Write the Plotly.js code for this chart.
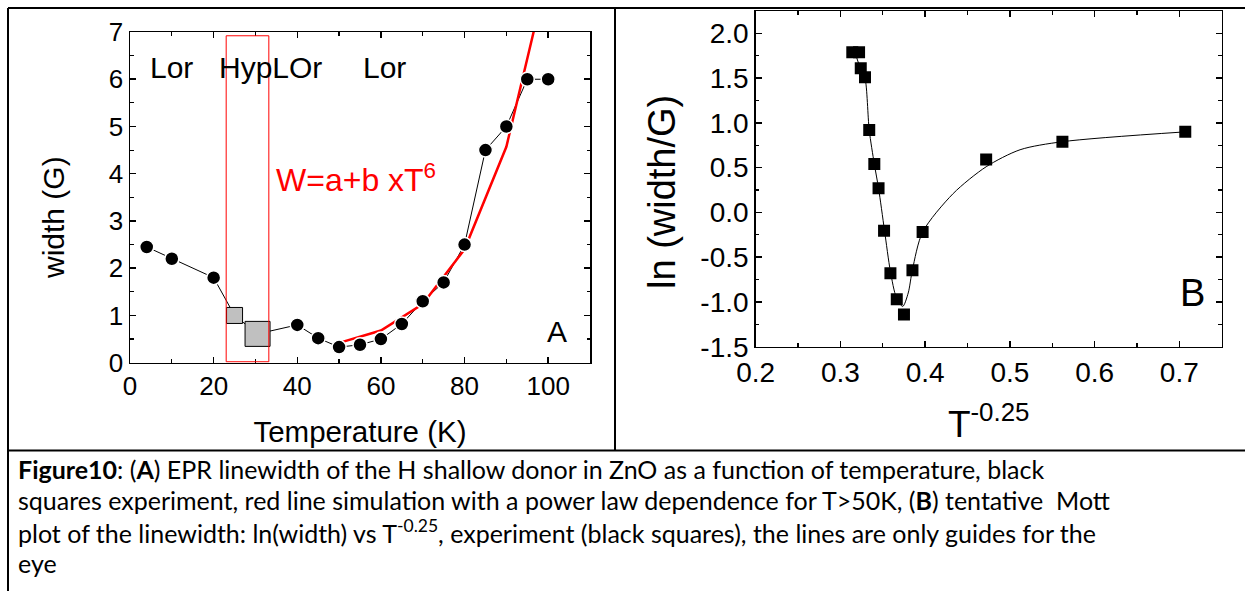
<!DOCTYPE html>
<html>
<head>
<meta charset="utf-8">
<script src="https://cdn.plot.ly/plotly-3.0.1.min.js"></script>
<style>html,body{margin:0;padding:0;background:#fff;}#chart{width:1245px;height:591px;}</style>
</head>
<body>
<div id="chart"></div>
<script>
// ---- Panel A: EPR linewidth vs temperature ----
const tempCircles  = [4, 10, 20, 40, 45, 50, 55, 60, 65, 70, 75, 80, 85, 90, 95, 100];
const widthCircles = [2.45, 2.2, 1.8, 0.8, 0.52, 0.33, 0.38, 0.5, 0.82, 1.3, 1.7, 2.5, 4.5, 5.0, 6.0, 6.0];
const tempBoxes  = [25, 30.5];
const widthBoxes = [1.0, 0.61];
const tempSim  = [50, 60, 70, 80, 90, 100];
const widthSim = [0.42, 0.68, 1.24, 2.40, 4.57, 8.3];
const hypRange = [23, 33.2];
const regionLabels = ['Lor', 'HypLOr', 'Lor'];
const regionLabelT = [10, 33.7, 60.8];
const xTicksA = [0, 20, 40, 60, 80, 100];
const yTicksA = [0, 1, 2, 3, 4, 5, 6, 7];

// ---- Panel B: Mott plot ----
const invT = [0.314, 0.322, 0.324, 0.329, 0.334, 0.340, 0.345, 0.3515, 0.359, 0.3665, 0.375, 0.385, 0.397, 0.472, 0.562, 0.707];
const lnW  = [1.79, 1.79, 1.61, 1.51, 0.92, 0.54, 0.27, -0.205, -0.68, -0.97, -1.14, -0.645, -0.22, 0.59, 0.79, 0.90];
const guideX = [0.317, 0.324, 0.329, 0.334, 0.340, 0.345, 0.352, 0.359, 0.366, 0.3735, 0.380, 0.385, 0.397, 0.433, 0.472, 0.512, 0.562, 0.707];
const guideY = [1.79, 1.60, 1.50, 0.92, 0.54, 0.27, -0.20, -0.66, -0.95, -1.05, -0.90, -0.64, -0.22, 0.21, 0.51, 0.70, 0.79, 0.90];
const xTicksB = [0.2, 0.3, 0.4, 0.5, 0.6, 0.7];
const xTickTextB = ['0.2', '0.3', '0.4', '0.5', '0.6', '0.7'];
const yTicksB = [-1.5, -1.0, -0.5, 0.0, 0.5, 1.0, 1.5, 2.0];
const yTickTextB = ['-1.5', '-1.0', '-0.5', '0.0', '0.5', '1.0', '1.5', '2.0'];

const captionLines = [
  '<b>Figure10</b>: (<b>A</b>) EPR linewidth of the H shallow donor in ZnO as a function of temperature, black',
  'squares experiment, red line simulation with a power law dependence for T>50K, (<b>B</b>) tentative  Mott',
  'plot of the linewidth: ln(width) vs T<sup>-0.25</sup>, experiment (black squares), the lines are only guides for the',
  'eye'
];

// combined path for the connecting line (circles + boxes, ordered by temperature)
const allA = tempCircles.map((t, i) => [t, widthCircles[i]])
  .concat(tempBoxes.map((t, i) => [t, widthBoxes[i]]))
  .sort((a, b) => a[0] - b[0]);

const W = 1245, H = 591;
const px = v => v / W, py = v => 1 - v / H;
const FONT = 'Liberation Sans, Arial, sans-serif';

const traces = [
  {x: allA.map(p => p[0]), y: allA.map(p => p[1]), mode: 'lines', line: {color: '#000', width: 1}, xaxis: 'x', yaxis: 'y', hoverinfo: 'skip'},
  {x: tempSim, y: widthSim, mode: 'lines', line: {color: '#ff0000', width: 2.5}, xaxis: 'x', yaxis: 'y'},
  {x: tempCircles, y: widthCircles, mode: 'markers', marker: {symbol: 'circle', size: 14, color: '#000', opacity: 1, line: {color: '#fff', width: 1.5}}, xaxis: 'x', yaxis: 'y'},
  {x: tempBoxes, y: widthBoxes, mode: 'markers', marker: {symbol: 'square', size: [16, 25], color: '#c0c0c0', opacity: 1, line: {color: '#000', width: 1}}, xaxis: 'x', yaxis: 'y'},
  {x: guideX, y: guideY, mode: 'lines', line: {color: '#000', width: 1, shape: 'spline', smoothing: 0.8}, xaxis: 'x2', yaxis: 'y2'},
  {x: invT, y: lnW, mode: 'markers', marker: {symbol: 'square', size: 12, color: '#000', opacity: 1}, xaxis: 'x2', yaxis: 'y2'}
];

const axBase = {
  showgrid: false, zeroline: false, showline: true, linecolor: '#000', linewidth: 1.5,
  ticks: 'inside', ticklen: 6, tickwidth: 1.5, tickcolor: '#000', mirror: 'allticks',
  tickfont: {family: FONT, size: 26, color: '#000'},
  minor: {ticks: 'inside', ticklen: 3.5, tickwidth: 1.2, tickcolor: '#000', showgrid: false}
};

const layout = {
  width: W, height: H, margin: {l: 0, r: 0, t: 0, b: 0},
  paper_bgcolor: '#fff', plot_bgcolor: '#fff', showlegend: false,
  font: {family: FONT, color: '#000'},
  xaxis: Object.assign({}, axBase, {
    domain: [px(130), px(590)], range: [0, 110], tickmode: 'array', tickvals: xTicksA,
    minor: Object.assign({}, axBase.minor, {dtick: 10, tick0: 0}),
    title: {text: 'Temperature (K)', font: {family: FONT, size: 29.5, color: '#000'}, standoff: 21},
    anchor: 'y'
  }),
  yaxis: Object.assign({}, axBase, {
    domain: [py(362.7), py(32)], range: [0, 7], tickmode: 'array', tickvals: yTicksA,
    minor: Object.assign({}, axBase.minor, {dtick: 0.5, tick0: 0}),
    anchor: 'x'
  }),
  xaxis2: Object.assign({}, axBase, {
    domain: [px(755.7), px(1221.7)], range: [0.2, 0.75], tickmode: 'array', tickvals: xTicksB, ticktext: xTickTextB,
    tickfont: {family: FONT, size: 28, color: '#000'},
    minor: Object.assign({}, axBase.minor, {dtick: 0.05, tick0: 0.2}),
    title: {text: 'T<sup>-0.25</sup>', font: {family: FONT, size: 37, color: '#000'}, standoff: 24},
    anchor: 'y2'
  }),
  yaxis2: Object.assign({}, axBase, {
    domain: [py(346.7), py(11)], range: [-1.5, 2.25], tickmode: 'array', tickvals: yTicksB, ticktext: yTickTextB,
    tickfont: {family: FONT, size: 28, color: '#000'},
    minor: Object.assign({}, axBase.minor, {dtick: 0.25, tick0: -1.5}),
    anchor: 'x2'
  }),
  shapes: [
    {type: 'rect', xref: 'x', yref: 'y', x0: hypRange[0], x1: hypRange[1], y0: 0.02, y1: 6.92, line: {color: '#ff0000', width: 1}},
    {type: 'line', xref: 'paper', yref: 'paper', x0: px(8), x1: 1, y0: py(8), y1: py(8), line: {color: '#000', width: 2}},
    {type: 'line', xref: 'paper', yref: 'paper', x0: px(8), x1: px(8), y0: py(8), y1: 0, line: {color: '#000', width: 2}},
    {type: 'line', xref: 'paper', yref: 'paper', x0: px(615), x1: px(615), y0: py(8), y1: py(450), line: {color: '#000', width: 2}},
    {type: 'line', xref: 'paper', yref: 'paper', x0: px(8), x1: 1, y0: py(450.5), y1: py(450.5), line: {color: '#000', width: 2}}
  ],
  annotations: []
};

// y-axis titles
layout.annotations.push({xref: 'paper', yref: 'paper', x: px(54), y: py(218), text: 'width (G)', textangle: -90, showarrow: false,
  font: {family: FONT, size: 30, color: '#000'}, xanchor: 'center', yanchor: 'middle'});
layout.annotations.push({xref: 'paper', yref: 'paper', x: px(662), y: py(192), text: 'ln (width/G)', textangle: -90, showarrow: false,
  font: {family: FONT, size: 38, color: '#000'}, xanchor: 'center', yanchor: 'middle'});

regionLabels.forEach((txt, i) => {
  layout.annotations.push({xref: 'x', yref: 'y', x: regionLabelT[i], y: 6.24, text: txt, showarrow: false,
    font: {family: FONT, size: 30, color: '#000'}, xanchor: 'center', yanchor: 'middle'});
});
layout.annotations.push({xref: 'x', yref: 'y', x: 34.4, y: 3.9, text: 'W=a+b xT<sup>6</sup>', showarrow: false,
  font: {family: FONT, size: 32, color: '#ff0000'}, xanchor: 'left', yanchor: 'middle'});
layout.annotations.push({xref: 'x', yref: 'y', x: 102.2, y: 0.67, text: 'A', showarrow: false,
  font: {family: FONT, size: 30, color: '#000'}, xanchor: 'center', yanchor: 'middle'});
layout.annotations.push({xref: 'x2', yref: 'y2', x: 0.716, y: -0.90, text: 'B', showarrow: false,
  font: {family: FONT, size: 38, color: '#000'}, xanchor: 'center', yanchor: 'middle'});

const capY = [469, 500, 531, 563];
captionLines.forEach((txt, i) => {
  layout.annotations.push({xref: 'paper', yref: 'paper', x: px(16), y: py(capY[i]), text: txt, showarrow: false,
    xanchor: 'left', yanchor: 'middle', font: {family: 'Lato, Open Sans, sans-serif', size: 25, color: '#000'}});
});

Plotly.newPlot('chart', traces, layout, {displayModeBar: false, staticPlot: true});
</script>
</body>
</html>
